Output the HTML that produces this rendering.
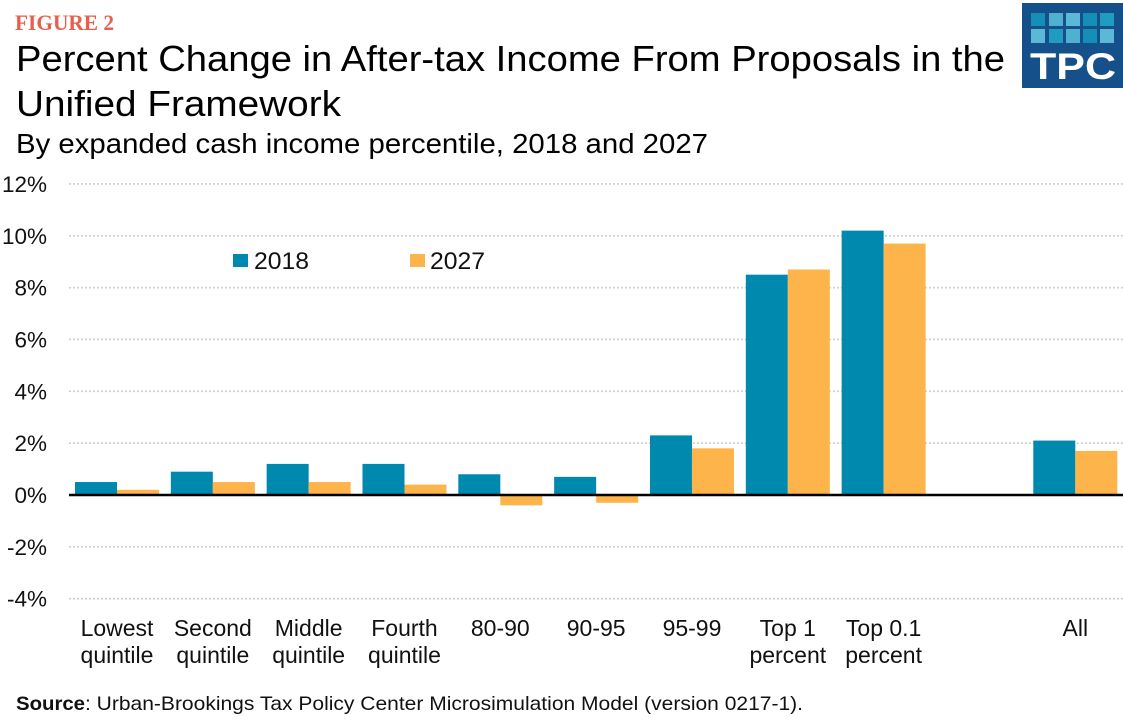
<!DOCTYPE html>
<html lang="en">
<head>
<meta charset="utf-8">
<title>Percent Change in After-tax Income From Proposals in the Unified Framework</title>
<style>
html,body{margin:0;padding:0;background:#fff;}
body{width:1123px;height:724px;overflow:hidden;}
svg{display:block;font-family:"Liberation Sans",sans-serif;}
</style>
</head>
<body>
<svg id="chart" width="1123" height="724" viewBox="0 0 1123 724" xmlns="http://www.w3.org/2000/svg">
  <rect x="0" y="0" width="1123" height="724" fill="#fff"/>
  <text x="15" y="30" font-family="'Liberation Serif',serif" font-weight="bold" font-size="22" fill="#e8604c" textLength="99" lengthAdjust="spacingAndGlyphs">FIGURE 2</text>
  <text x="16" y="71" font-size="36" fill="#000" textLength="989" lengthAdjust="spacingAndGlyphs">Percent Change in After-tax Income From Proposals in the</text>
  <text x="16" y="116" font-size="36" fill="#000" textLength="325" lengthAdjust="spacingAndGlyphs">Unified Framework</text>
  <text x="16" y="153" font-size="28" fill="#000" textLength="692" lengthAdjust="spacingAndGlyphs">By expanded cash income percentile, 2018 and 2027</text>

  <g>
    <rect x="1022" y="3" width="101" height="85" fill="#16508a"/>
    <g>
      <rect x="1031" y="13" width="14" height="13" fill="#1490b8"/><rect x="1049" y="13" width="14" height="13" fill="#4fb0d0"/><rect x="1066" y="13" width="14" height="13" fill="#5bb8d6"/><rect x="1083" y="13" width="14" height="13" fill="#1490b8"/><rect x="1100" y="13" width="14" height="13" fill="#1f9cc0"/>
      <rect x="1031" y="29" width="14" height="14" fill="#5bb8d6"/><rect x="1049" y="29" width="14" height="14" fill="#1f9cc0"/><rect x="1066" y="29" width="14" height="14" fill="#4fb0d0"/><rect x="1083" y="29" width="14" height="14" fill="#1490b8"/><rect x="1100" y="29" width="14" height="14" fill="#5bb8d6"/>
    </g>
    <text x="1030" y="79" font-size="37" font-weight="bold" fill="#fff" textLength="86" lengthAdjust="spacingAndGlyphs">TPC</text>
  </g>

  <g id="grid"></g>
  <g id="ylabels"></g>
  <g id="bars"></g>
  <line id="zero" x1="69" x2="1123" stroke="#000" stroke-width="2.4"/>
  <g id="xlabels"></g>

  <g>
    <g>
      <rect x="233" y="254" width="15" height="13" fill="#0089ae"/>
      <text x="254" y="269" font-size="24" fill="#111" textLength="55" lengthAdjust="spacingAndGlyphs">2018</text>
    </g>
    <g>
      <rect x="410" y="254" width="15" height="13" fill="#fdb44b"/>
      <text x="430" y="269" font-size="24" fill="#111" textLength="55" lengthAdjust="spacingAndGlyphs">2027</text>
    </g>
  </g>

  <g>
    <text x="16" y="710" font-size="19.5" font-weight="bold" fill="#111" textLength="69" lengthAdjust="spacingAndGlyphs">Source</text>
    <text x="85" y="710" font-size="19.5" fill="#111" textLength="718" lengthAdjust="spacingAndGlyphs">: Urban-Brookings Tax Policy Center Microsimulation Model (version 0217-1).</text>
  </g>
</svg>
<script>
var categories = [["Lowest","quintile"],["Second","quintile"],["Middle","quintile"],["Fourth","quintile"],["80-90"],["90-95"],["95-99"],["Top 1","percent"],["Top 0.1","percent"],[],["All"]];
var values2018 = [0.5,0.9,1.2,1.2,0.8,0.7,2.3,8.5,10.2,null,2.1];
var values2027 = [0.2,0.5,0.5,0.4,-0.4,-0.3,1.8,8.7,9.7,null,1.7];
var yTicks = [12,10,8,6,4,2,0,-2,-4];

var NS = "http://www.w3.org/2000/svg";
function yScale(v){ return 495 + (0 - v) * 25.92; }
function bandStart(i){ return 75 + i * 95.83; }
var barWidth = 42;
function make(tag, attrs, parent){
  var el = document.createElementNS(NS, tag);
  for (var k in attrs) el.setAttribute(k, attrs[k]);
  parent.appendChild(el);
  return el;
}
var grid = document.getElementById("grid");
var ylabels = document.getElementById("ylabels");
var bars = document.getElementById("bars");
var xlabels = document.getElementById("xlabels");
document.getElementById("zero").setAttribute("y1", yScale(0));
document.getElementById("zero").setAttribute("y2", yScale(0));

yTicks.forEach(function(t){
  if (t !== 0) {
    var g = make("line", {x1:69, x2:1123, y1:yScale(t), y2:yScale(t), stroke:"#c9c9c9", "stroke-width":1.6, "stroke-dasharray":"1.8 2.2"}, grid);
    
    
  }
  var lab = make("text", {x:47, y:yScale(t)+8, "text-anchor":"end", "font-size":22.5, fill:"#111"}, ylabels);
  lab.textContent = t + "%";
  
  
});

function drawBar(v, x, color){
  if (v === null) return;
  var y0 = yScale(Math.max(v, 0));
  var y1 = yScale(Math.min(v, 0));
  var r = make("rect", {x:x, y:y0, width:barWidth, height:y1-y0, fill:color}, bars);
  
  
}
categories.forEach(function(c, i){
  var x = bandStart(i);
  drawBar(values2018[i], x, "#0089ae");
  drawBar(values2027[i], x + barWidth, "#fdb44b");
  c.forEach(function(line, j){
    var t = make("text", {x:x + barWidth, y:636 + j * 27, "text-anchor":"middle", "font-size":23, fill:"#111"}, xlabels);
    t.textContent = line;
    
    
  });
});
</script>
</body>
</html>
